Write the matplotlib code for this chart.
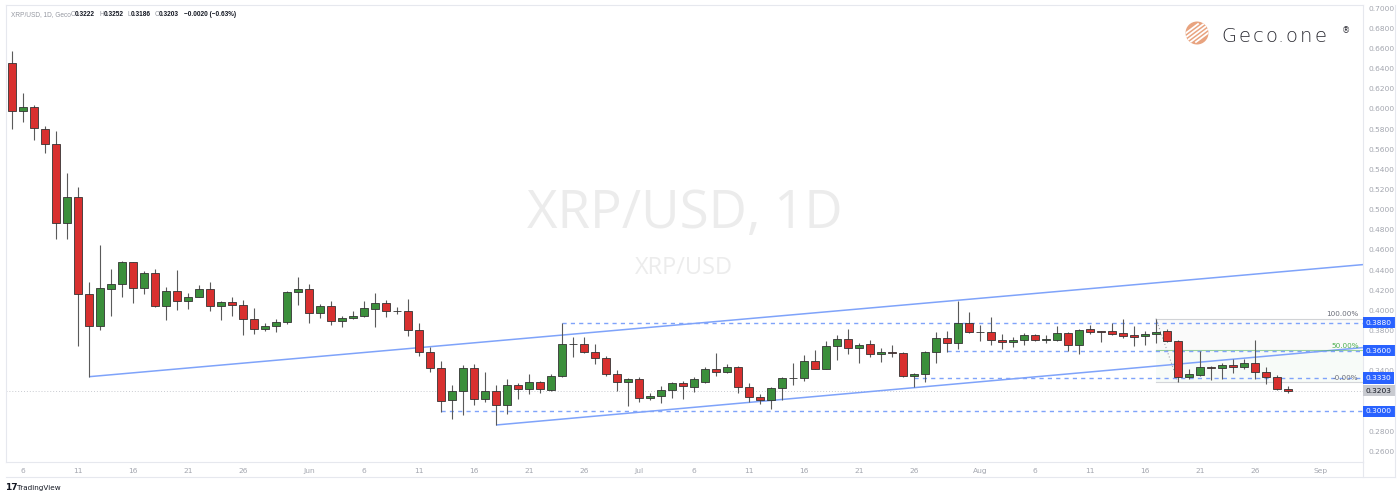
import numpy as np
import pandas as pd
import matplotlib
matplotlib.use('Agg')
import matplotlib.pyplot as plt
import matplotlib.dates as mdates
import matplotlib.transforms as mtransforms
from matplotlib.patches import Circle
from matplotlib.lines import Line2D

# daily XRP/USD candles, 2022-05-05 .. 2022-08-29
start = '2022-05-05'
opens = [0.6452, 0.5979, 0.6015, 0.5803, 0.5652, 0.4865, 0.5126, 0.4160, 0.3849, 0.4216,
         0.4260, 0.4478, 0.4226, 0.4369, 0.4044, 0.4197, 0.4097, 0.4137, 0.4210, 0.4041,
         0.4081, 0.4051, 0.3912, 0.3813, 0.3849, 0.3886, 0.4180, 0.4210, 0.3978, 0.4044,
         0.3899, 0.3922, 0.3949, 0.4018, 0.4071, 0.3998, 0.3998, 0.3806, 0.3591, 0.3426,
         0.3109, 0.3201, 0.3429, 0.3125, 0.3204, 0.3062, 0.3257, 0.3218, 0.3287, 0.3214,
         0.3350, 0.3667, 0.3670, 0.3588, 0.3532, 0.3370, 0.3294, 0.3317, 0.3135, 0.3155,
         0.3214, 0.3277, 0.3244, 0.3294, 0.3416, 0.3393, 0.3436, 0.3244, 0.3145, 0.3112,
         0.3231, 0.3327, 0.3327, 0.3499, 0.3423, 0.3648, 0.3720, 0.3625, 0.3664, 0.3568,
         0.3585, 0.3581, 0.3350, 0.3366, 0.3588, 0.3730, 0.3674, 0.3873, 0.3787, 0.3790,
         0.3710, 0.3687, 0.3704, 0.3757, 0.3712, 0.3707, 0.3780, 0.3661, 0.3813, 0.3793,
         0.3793, 0.3774, 0.3754, 0.3747, 0.3764, 0.3793, 0.3701, 0.3337, 0.3357, 0.3443,
         0.3433, 0.3463, 0.3443, 0.3483, 0.3386, 0.3343, 0.3222]
highs = [0.6574, 0.6154, 0.6035, 0.5830, 0.5784, 0.5367, 0.5228, 0.4286, 0.4650, 0.4408,
         0.4494, 0.4485, 0.4395, 0.4416, 0.4229, 0.4403, 0.4177, 0.4253, 0.4284, 0.4097,
         0.4130, 0.4104, 0.4025, 0.3872, 0.3912, 0.4193, 0.4335, 0.4260, 0.4064, 0.4097,
         0.3945, 0.3990, 0.4094, 0.4177, 0.4104, 0.4031, 0.4110, 0.3872, 0.3641, 0.3499,
         0.3261, 0.3455, 0.3469, 0.3390, 0.3261, 0.3323, 0.3277, 0.3366, 0.3297, 0.3366,
         0.3880, 0.3733, 0.3740, 0.3667, 0.3548, 0.3409, 0.3327, 0.3343, 0.3184, 0.3251,
         0.3294, 0.3297, 0.3337, 0.3436, 0.3575, 0.3469, 0.3446, 0.3277, 0.3171, 0.3241,
         0.3337, 0.3475, 0.3555, 0.3608, 0.3694, 0.3760, 0.3813, 0.3674, 0.3707, 0.3625,
         0.3658, 0.3585, 0.3383, 0.3601, 0.3790, 0.3797, 0.4097, 0.3982, 0.3853, 0.3939,
         0.3767, 0.3734, 0.3780, 0.3767, 0.3760, 0.3846, 0.3787, 0.3813, 0.3853, 0.3800,
         0.3879, 0.3912, 0.3846, 0.3793, 0.3919, 0.3813, 0.3705, 0.3416, 0.3595, 0.3450,
         0.3476, 0.3522, 0.3515, 0.3707, 0.3443, 0.3363, 0.3252]
lows = [0.5797, 0.5873, 0.5691, 0.5565, 0.4706, 0.4706, 0.3648, 0.3343, 0.3806, 0.3945,
        0.4137, 0.4078, 0.4163, 0.4031, 0.3906, 0.4005, 0.4018, 0.4130, 0.3998, 0.3906,
        0.3945, 0.3753, 0.3763, 0.3800, 0.3786, 0.3863, 0.4054, 0.3879, 0.3925, 0.3859,
        0.3839, 0.3915, 0.3932, 0.3839, 0.3938, 0.3965, 0.3747, 0.3548, 0.3393, 0.2996,
        0.2923, 0.2962, 0.3062, 0.3095, 0.2864, 0.2973, 0.3118, 0.3171, 0.3178, 0.3205,
        0.3337, 0.3535, 0.3575, 0.3469, 0.3350, 0.3198, 0.3052, 0.3092, 0.3112, 0.3079,
        0.3128, 0.3118, 0.3191, 0.3277, 0.3350, 0.3383, 0.3184, 0.3095, 0.3069, 0.3019,
        0.3112, 0.3261, 0.3304, 0.3416, 0.3416, 0.3509, 0.3565, 0.3476, 0.3535, 0.3492,
        0.3542, 0.3343, 0.3238, 0.3294, 0.3483, 0.3585, 0.3615, 0.3774, 0.3701, 0.3654,
        0.3621, 0.3634, 0.3661, 0.3694, 0.3674, 0.3694, 0.3601, 0.3568, 0.3767, 0.3687,
        0.3754, 0.3724, 0.3648, 0.3658, 0.3674, 0.3687, 0.3290, 0.3320, 0.3350, 0.3310,
        0.3320, 0.3377, 0.3423, 0.3317, 0.3271, 0.3212, 0.3186]
closes = [0.5979, 0.6015, 0.5807, 0.5655, 0.4865, 0.5126, 0.4160, 0.3849, 0.4220, 0.4263,
          0.4478, 0.4226, 0.4369, 0.4044, 0.4197, 0.4097, 0.4137, 0.4210, 0.4041, 0.4081,
          0.4051, 0.3912, 0.3813, 0.3849, 0.3886, 0.4180, 0.4210, 0.3978, 0.4044, 0.3899,
          0.3922, 0.3949, 0.4021, 0.4071, 0.3998, 0.3995, 0.3806, 0.3591, 0.3426, 0.3105,
          0.3201, 0.3429, 0.3125, 0.3204, 0.3062, 0.3257, 0.3218, 0.3287, 0.3218, 0.3350,
          0.3667, 0.3664, 0.3588, 0.3532, 0.3370, 0.3294, 0.3317, 0.3135, 0.3155, 0.3214,
          0.3277, 0.3251, 0.3317, 0.3416, 0.3393, 0.3436, 0.3244, 0.3145, 0.3112, 0.3231,
          0.3327, 0.3330, 0.3499, 0.3423, 0.3648, 0.3720, 0.3625, 0.3658, 0.3568, 0.3588,
          0.3582, 0.3350, 0.3370, 0.3588, 0.3730, 0.3674, 0.3873, 0.3787, 0.3790, 0.3707,
          0.3687, 0.3707, 0.3757, 0.3707, 0.3715, 0.3780, 0.3661, 0.3806, 0.3790, 0.3790,
          0.3767, 0.3747, 0.3737, 0.3767, 0.3787, 0.3701, 0.3337, 0.3366, 0.3443, 0.3426,
          0.3463, 0.3443, 0.3483, 0.3386, 0.3343, 0.3222, 0.3203]

tick_dates = ['2022-05-06', '2022-05-11', '2022-05-16', '2022-05-21', '2022-05-26', '2022-06-01',
              '2022-06-06', '2022-06-11', '2022-06-16', '2022-06-21', '2022-06-26', '2022-07-01',
              '2022-07-06', '2022-07-11', '2022-07-16', '2022-07-21', '2022-07-26', '2022-08-01',
              '2022-08-06', '2022-08-11', '2022-08-16', '2022-08-21', '2022-08-26', '2022-09-01']
tick_labels = ['6', '11', '16', '21', '26', 'Jun', '6', '11', '16', '21', '26', 'Jul',
               '6', '11', '16', '21', '26', 'Aug', '6', '11', '16', '21', '26', 'Sep']
price_ticks = np.arange(0.26, 0.7001, 0.02)

# horizontal levels (price, date they start)
levels = [0.3880, 0.3600, 0.3330, 0.3000]
level_starts = ['2022-06-24', '2022-07-29', '2022-07-26', '2022-06-13']
last_price = 0.3203

# fibonacci retracement
fib_dates = ['2022-08-17', '2022-08-19']
fib_prices = [0.3919, 0.3290]
fib_ratios = [1.0, 0.5, 0.0]
fib_labels = ['100.00%', '50.00%', '-0.00%']

# channel lines (start date, start price, price at right edge)
upper_start = ('2022-05-12', 0.3343, 0.4455)
lower_start = ('2022-06-18', 0.2864, 0.3632)

W, H = 1400, 497
fig = plt.figure(figsize=(W / 100, H / 100), dpi=100)
fig.patch.set_facecolor('white')
ax = fig.add_axes([6 / W, 35 / H, 1357 / W, 457 / H])

dates = pd.date_range(start, periods=len(opens), freq='D')
xs = mdates.date2num(dates)
x0 = xs[0]
xmin, xmax = x0 - 0.545, x0 + 122.82
ax.set_xlim(xmin, xmax)
ax.set_ylim(0.2497, 0.703)

o = np.array(opens); c = np.array(closes)
hi = np.array(highs); lo = np.array(lows)
up = c >= o
body_col = np.where(up, '#3b8f3b', '#d8302f')
ax.vlines(xs, lo, hi, color='#5a5a5a', linewidth=0.8, zorder=3)
ax.bar(xs, np.maximum(np.abs(c - o), 0.0004), bottom=np.minimum(o, c), width=0.74,
       color=body_col, edgecolor='#333333', linewidth=0.6, zorder=4)

# watermark
fig.text(685 / W, 1 - 214 / H, 'XRP/USD, 1D', ha='center', va='center',
         fontsize=38, color='#ececec', family='Open Sans', zorder=0)
fig.text(684 / W, 1 - 268 / H, 'XRP/USD', ha='center', va='center',
         fontsize=17, color='#ececec', family='Open Sans', zorder=0)

blue = '#2962ff'
line_blue = '#7fa3fa'
# channel
for d, p0, p1 in [upper_start, lower_start]:
    ax.plot([mdates.date2num(pd.Timestamp(d)), xmax], [p0, p1], color=line_blue,
            linewidth=1.1, zorder=2, solid_capstyle='butt')

# current price line
ax.axhline(last_price, color='#c9cbd1', linewidth=0.7, linestyle=(0, (1, 2)), zorder=1)

# fibonacci
fx = [mdates.date2num(pd.Timestamp(d)) for d in fib_dates]
rng = fib_prices[0] - fib_prices[1]
fib_vals = [fib_prices[1] + r * rng for r in fib_ratios]
ax.fill_between([fx[0], xmax], fib_vals[1], fib_vals[0], color='#9e9e9e', alpha=0.05, lw=0, zorder=1)
ax.fill_between([fx[0], xmax], fib_vals[2], fib_vals[1], color='#4caf50', alpha=0.04, lw=0, zorder=1)
fib_cols = ['#b0b3ba', '#4caf50', '#b0b3ba']
for v, col, lab in zip(fib_vals, fib_cols, fib_labels):
    ax.plot([fx[0], xmax], [v, v], color=col, linewidth=0.8, alpha=0.55, zorder=2)
    ax.text(xmax - 0.4, v + 0.0012, lab, ha='right', va='bottom', fontsize=5.2,
            color=('#4caf50' if col == '#4caf50' else '#6a6d78'), zorder=6)
ax.plot(fx, fib_prices, color='#a0a3ab', linewidth=0.8, linestyle=(0, (1, 2)), zorder=2)

# horizontal levels
ylab = mtransforms.blended_transform_factory(ax.transAxes, ax.transData)
for v, d in zip(levels, level_starts):
    ax.plot([mdates.date2num(pd.Timestamp(d)), xmax], [v, v], color=line_blue, linewidth=1.0,
            linestyle=(0, (3, 3)), zorder=2)
    ax.text(1.0 + 3 / 1357, v, '%.4f' % v, transform=ylab, ha='left', va='center', fontsize=5.4,
            color='white', zorder=10, clip_on=False,
            bbox=dict(boxstyle='square,pad=0.35', fc=blue, ec='none'))
ax.text(1.0 + 3 / 1357, last_price, '%.4f' % last_price, transform=ylab, ha='left', va='center',
        fontsize=5.4, color='#131722', zorder=10, clip_on=False,
        bbox=dict(boxstyle='square,pad=0.35', fc='#c8cad0', ec='none'))

# axes styling
ax.yaxis.tick_right()
ax.set_yticks(price_ticks)
ax.set_yticklabels(['%.4f' % p for p in price_ticks])
ax.set_xticks(mdates.date2num(pd.to_datetime(tick_dates)))
ax.set_xticklabels(tick_labels)
ax.tick_params(axis='y', length=0, pad=4, labelsize=5.4, labelcolor='#a3a6af')
ax.tick_params(axis='x', length=0, pad=4, labelsize=5.4, labelcolor='#a3a6af')
for s in ax.spines.values():
    s.set_color('#e6e8ee')
    s.set_linewidth(0.8)

# bottom strip / right scale borders
fig.add_artist(Line2D([6 / W, 1395 / W], [1 - 477 / H, 1 - 477 / H], color='#e6e8ee', lw=0.8))
fig.add_artist(Line2D([1363 / W, 1363 / W], [1 - 477 / H, 1 - 462 / H], color='#e6e8ee', lw=0.8))
fig.add_artist(Line2D([1395 / W, 1395 / W], [1 - 477 / H, 1 - 5 / H], color='#e6e8ee', lw=0.8))

# header
hy = 1 - 15 / H
parts = [(11, 'XRP/USD, 1D, Geco', '#9598a1', 'normal'),
         (71, 'O', '#9598a1', 'normal'), (75, '0.3222', '#131722', 'bold'),
         (100, 'H', '#9598a1', 'normal'), (104, '0.3252', '#131722', 'bold'),
         (128, 'L', '#9598a1', 'normal'), (131, '0.3186', '#131722', 'bold'),
         (155, 'C', '#9598a1', 'normal'), (159, '0.3203', '#131722', 'bold'),
         (184, '\u22120.0020 (\u22120.63%)', '#131722', 'bold')]
for px, t, col, w in parts:
    fig.text(px / W, hy, t, fontsize=4.7, color=col, weight=w, va='center', ha='left',
             family='Liberation Sans')

# Geco logo
logo = Circle((1197, H - 33), 11.5, transform=None, fc='#e8a37f', ec='none')
fig.add_artist(logo)
for k in range(-2, 3):
    off = k * 5.5
    fig.add_artist(Line2D([1197 - 12 + off, 1197 + 12 + off], [H - 33 - 9, H - 33 + 9],
                          transform=None, color='white', lw=1.3, clip_path=logo))
logo_chars = 'Geco.one'
logo_x = [1229, 1245, 1258, 1271.5, 1280, 1291, 1306, 1321]
for ch, px in zip(logo_chars, logo_x):
    fig.text(px / W, 1 - 36 / H, ch, fontsize=14, color='#2b2b33', va='center', ha='center',
             family='DejaVu Sans', weight='light')
fig.text(1346 / W, 1 - 31 / H, '\u00ae', fontsize=6, color='#2b2b33', va='center', ha='center')

# TradingView mark
fig.text(5 / W, 1 - 488 / H, '17', fontsize=6.5, color='#131722', weight='bold', va='center', ha='left')
fig.text(17 / W, 1 - 488 / H, 'TradingView', fontsize=5.2, color='#131722', va='center', ha='left')

fig.savefig('out.png', dpi=100, facecolor='white')
